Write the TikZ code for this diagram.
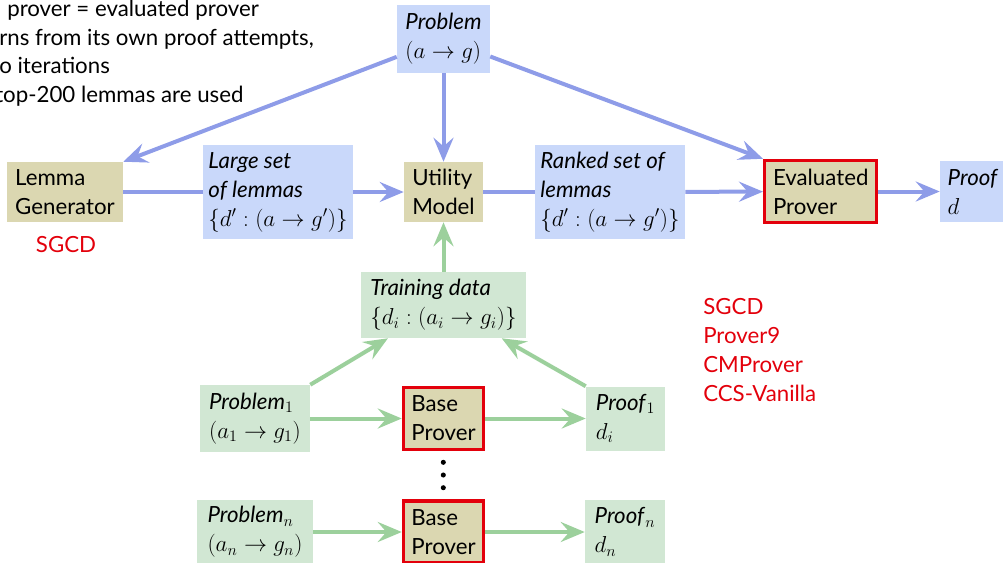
\documentclass[tikz,border=0pt]{standalone}
\usepackage{fontspec}
\setmainfont{Lato}
\usetikzlibrary{arrows.meta,calc}
\DeclareMathSizes{16.7}{17.5}{12.5}{9}
\definecolor{bfill}{HTML}{C9D8FA}
\definecolor{kfill}{HTML}{DBD7B1}
\definecolor{gfill}{HTML}{D1E7D3}
\definecolor{barc}{HTML}{8E9CE8}
\definecolor{garc}{HTML}{9CD09C}
\definecolor{rline}{HTML}{E3000B}
\begin{document}
\begin{tikzpicture}[x=0.75pt,y=-0.75pt,
  every node/.style={font=\fontsize{16.7}{21.75}\selectfont},
  boxbase/.style={align=left, inner sep=0pt},
  bbox/.style={boxbase, fill=bfill},
  kbox/.style={boxbase, fill=kfill},
  gbox/.style={boxbase, fill=gfill},
  rbox/.style={kbox, draw=rline, line width=2.6pt},
  tip/.style={-{Stealth[length=18pt,width=15pt,inset=6.5pt]}},
  bline/.style={draw=barc, line width=3pt},
  barrow/.style={bline, tip},
  gline/.style={draw=garc, line width=3pt},
  garrow/.style={gline, tip},
  note/.style={anchor=base west, inner sep=0pt},
  redtxt/.style={anchor=base west, inner sep=0pt, text=rline}
]
\useasboundingbox (0,0) rectangle (1003,562);
\clip (0,0) rectangle (1003,562);

% top-left notes (clipped slide text)
\node[note] (n1) at (7,16.7) {prover = evaluated prover};
\node[note] (n2) at (-1,45) {rns from its own proof attempts,};
\node[note] (n3) at (-1,73.5) {o iterations};
\node[note] (n4) at (-5,102) {top-200 lemmas are used};

% top row
\node[bbox, minimum width=69.75pt, minimum height=51pt] (prob) at (443.5,39)
  {\textit{Problem}\\$(a\to g)$};
\node[kbox, minimum width=87pt, minimum height=45pt] (lem) at (65,192)
  {Lemma\\Generator};
\node[bbox, minimum width=112.5pt, minimum height=70.5pt] (large) at (278,192)
  {\textit{Large set}\\\textit{of lemmas}\\$\{d':(a\to g')\}$};
\node[kbox, minimum width=59.25pt, minimum height=45pt] (util) at (443.5,192)
  {Utility\\Model};
\node[bbox, minimum width=112.5pt, minimum height=70.5pt] (ranked) at (610,192)
  {\textit{Ranked set of}\\\textit{lemmas}\\$\{d':(a\to g')\}$};
\node[rbox, minimum width=84pt, minimum height=46.5pt] (eval) at (820.75,191.5)
  {Evaluated\\Prover};
\node[bbox, minimum width=49.5pt, minimum height=45.75pt] (proof) at (973,191.5)
  {\textit{Proof}\\$d$};

\node[text=rline, anchor=base, inner sep=0pt] (sgcd) at (66,252) {SGCD};

% training data
\node[gbox, minimum width=123.75pt, minimum height=49.5pt] (train) at (443.5,305)
  {\textit{Training data}\\$\{d_i:(a_i\to g_i)\}$};

% row 1
\node[gbox, minimum width=82.5pt, minimum height=50.25pt] (p1) at (255,418.5)
  {\textit{Problem}$_1$\\$(a_1\to g_1)$};
\node[rbox, minimum width=60pt, minimum height=46.5pt] (b1) at (443.5,418.5)
  {Base\\Prover};
\node[gbox, minimum width=59.25pt, minimum height=48pt] (q1) at (625.5,418.5)
  {\textit{Proof}$_1$\\$d_i$};

% row n
\node[gbox, minimum width=87pt, minimum height=48pt] (pn) at (255,532)
  {\textit{Problem}$_n$\\$(a_n\to g_n)$};
\node[rbox, minimum width=60pt, minimum height=46.5pt] (bn) at (443.5,532)
  {Base\\Prover};
\node[gbox, minimum width=60pt, minimum height=48pt] (qn) at (625,532)
  {\textit{Proof}$_n$\\$d_n$};

% dots
\fill (443.3,462.3) circle (1.9pt);
\fill (443.3,475) circle (1.9pt);
\fill (443.3,487.7) circle (1.9pt);

% red list
\node[redtxt] (r1) at (703,314) {SGCD};
\node[redtxt] (r2) at (703,343) {Prover9};
\node[redtxt] (r3) at (703,372) {CMProver};
\node[redtxt] (r4) at (703,401) {CCS-Vanilla};

% blue connectors
\draw[barrow] (prob) -- (lem.north east);
\draw[barrow] (prob) -- (util);
\draw[barrow] (prob) -- (eval.north west);
\draw[bline] (lem) -- (large);
\draw[barrow] (large) -- (util);
\draw[bline] (util) -- (ranked);
\draw[barrow] (ranked) -- (eval);
\draw[barrow] (eval) -- (proof);

% green connectors
\draw[garrow] (train) -- (util);
\draw[garrow] (p1.north east) -- (train);
\draw[garrow] (q1.north west) -- (train);
\draw[garrow] (p1) -- (b1);
\draw[garrow] (b1) -- (q1);
\draw[garrow] (pn) -- (bn);
\draw[garrow] (bn) -- (qn);
\end{tikzpicture}
\end{document}
